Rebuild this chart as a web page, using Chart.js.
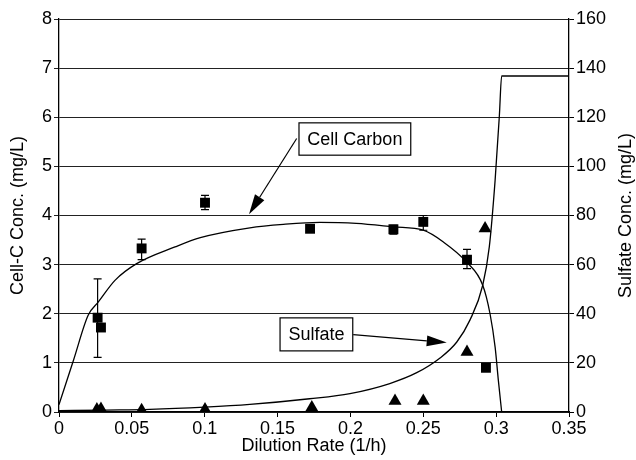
<!DOCTYPE html>
<html>
<head>
<meta charset="utf-8">
<script src="https://cdn.jsdelivr.net/npm/chart.js@4"></script>
<style>
    body { margin: 0; background: #fff; }
    canvas { display: block; }
</style>
</head>
<body>
<canvas id="dilution-chart" width="636" height="460"></canvas>
<script>
// Measured cell carbon (left axis, mg/L) with error bar limits
const cellDilution = [0.0265, 0.0288, 0.0567, 0.1002, 0.1723, 0.2295, 0.250, 0.280, 0.293];
const cellCarbon = [1.92, 1.72, 3.33, 4.26, 3.73, 3.72, 3.87, 3.10, 0.90];
const cellErrLow = [1.11, null, 3.10, 4.12, null, 3.62, 3.70, 2.92, null];
const cellErrHigh = [2.71, null, 3.52, 4.41, null, 3.80, 4.00, 3.31, null];

// Measured sulfate (right axis, mg/L)
const sulfateDilution = [0.026, 0.0288, 0.0567, 0.1002, 0.1735, 0.2306, 0.250, 0.280, 0.2924];
const sulfate = [1.0, 1.2, 0.7, 1.0, 1.8, 4.5, 4.5, 24.4, 74.7];

// Model curves
const cellModelX = [0, 0.01, 0.02, 0.027, 0.0384, 0.0533, 0.0796, 0.097, 0.131, 0.154, 0.179, 0.204, 0.2295, 0.250, 0.2638, 0.2798, 0.2908, 0.2958, 0.2993, 0.3015, 0.3038];
const cellModelY = [0.15, 1.06, 1.97, 2.24, 2.68, 3.02, 3.36, 3.55, 3.75, 3.82, 3.86, 3.84, 3.77, 3.70, 3.46, 3.05, 2.58, 2.0, 1.32, 0.65, 0];
const sulfateModelX = [0, 0.03, 0.0624, 0.1, 0.131, 0.172, 0.1997, 0.227, 0.2455, 0.2615, 0.273, 0.282, 0.2908, 0.2953, 0.2993, 0.3022, 0.3038, 0.35];
const sulfateModelY = [0.5, 0.8, 1.1, 2.0, 3.1, 5.4, 7.5, 11.6, 16.0, 22.0, 28.5, 37.4, 51.6, 67.2, 94.4, 120.5, 136.8, 136.8];

const xTickLabels = ['0', '0.05', '0.1', '0.15', '0.2', '0.25', '0.3', '0.35'];

// Callout boxes with arrows, in left-axis data units
const callouts = [
    { text: 'Cell Carbon', box: [0.1647, 5.886, 0.2414, 5.228], from: [0.1631, 5.568], to: [0.1304, 4.026] },
    { text: 'Sulfate', box: [0.1517, 1.916, 0.2016, 1.244], from: [0.2019, 1.577], to: [0.2661, 1.413] },
];

const FONT = '"Liberation Sans", Arial, sans-serif';

document.addEventListener("DOMContentLoaded", () => {
    Chart.defaults.font.family = FONT;
    Chart.defaults.font.size = 18;
    Chart.defaults.color = '#000';

    const toPoints = (xs, ys) => xs.map((x, i) => ({ x: x, y: ys[i] }));

    // Vertical error bars on the cell carbon squares
    const errorBars = {
        id: 'errorBars',
        beforeDatasetsDraw(chart) {
            const { ctx, scales } = chart;
            ctx.save();
            ctx.strokeStyle = '#000';
            ctx.lineWidth = 1.2;
            cellDilution.forEach((x, i) => {
                if (cellErrLow[i] == null) return;
                const px = scales.x.getPixelForValue(x);
                const top = scales.y.getPixelForValue(cellErrHigh[i]);
                const bottom = scales.y.getPixelForValue(cellErrLow[i]);
                ctx.beginPath();
                ctx.moveTo(px, top); ctx.lineTo(px, bottom);
                ctx.moveTo(px - 4, top); ctx.lineTo(px + 4, top);
                ctx.moveTo(px - 4, bottom); ctx.lineTo(px + 4, bottom);
                ctx.stroke();
            });
            ctx.restore();
        }
    };

    // Labelled boxes, arrows and the axis titles
    const decorations = {
        id: 'decorations',
        afterDraw(chart) {
            const { ctx, scales, chartArea } = chart;
            const X = v => scales.x.getPixelForValue(v);
            const Y = v => scales.y.getPixelForValue(v);
            ctx.save();
            ctx.strokeStyle = '#000';
            ctx.fillStyle = '#000';
            ctx.lineWidth = 1.2;
            ctx.font = '18px ' + FONT;

            callouts.forEach(c => {
                const x0 = X(c.box[0]), y0 = Y(c.box[1]);
                const x1 = X(c.box[2]), y1 = Y(c.box[3]);
                ctx.fillStyle = '#fff';
                ctx.fillRect(x0, y0, x1 - x0, y1 - y0);
                ctx.strokeRect(x0, y0, x1 - x0, y1 - y0);
                ctx.fillStyle = '#000';
                ctx.textAlign = 'center';
                ctx.textBaseline = 'middle';
                ctx.fillText(c.text, (x0 + x1) / 2, (y0 + y1) / 2 + 1);

                // arrow shaft and filled head
                const fx = X(c.from[0]), fy = Y(c.from[1]);
                const tx = X(c.to[0]), ty = Y(c.to[1]);
                const ang = Math.atan2(ty - fy, tx - fx);
                const len = 20, half = 5.5;
                const bx = tx - len * Math.cos(ang), by = ty - len * Math.sin(ang);
                ctx.beginPath();
                ctx.moveTo(fx, fy); ctx.lineTo(bx, by);
                ctx.stroke();
                ctx.beginPath();
                ctx.moveTo(tx, ty);
                ctx.lineTo(bx + half * Math.sin(ang), by - half * Math.cos(ang));
                ctx.lineTo(bx - half * Math.sin(ang), by + half * Math.cos(ang));
                ctx.closePath();
                ctx.fill();
            });

            const midY = (chartArea.top + chartArea.bottom) / 2;
            ctx.textAlign = 'center';
            ctx.textBaseline = 'middle';
            ctx.fillText('Dilution Rate (1/h)', (chartArea.left + chartArea.right) / 2, 446);
            [[18, 'Cell-C Conc. (mg/L)'], [626, 'Sulfate Conc. (mg/L)']].forEach(([x, t]) => {
                ctx.save();
                ctx.translate(x, midY);
                ctx.rotate(-Math.PI / 2);
                ctx.fillText(t, 0, 0);
                ctx.restore();
            });
            ctx.restore();
        }
    };

    const ctx = document.getElementById("dilution-chart").getContext("2d");
    new Chart(ctx, {
        type: "scatter",
        data: {
            datasets: [
                {
                    label: "Cell carbon model",
                    data: toPoints(cellModelX, cellModelY),
                    showLine: true,
                    borderColor: "#000",
                    borderWidth: 1.3,
                    pointRadius: 0,
                    cubicInterpolationMode: "monotone",
                    yAxisID: "y",
                },
                {
                    label: "Sulfate model",
                    data: toPoints(sulfateModelX, sulfateModelY),
                    showLine: true,
                    borderColor: "#000",
                    borderWidth: 1.3,
                    pointRadius: 0,
                    cubicInterpolationMode: "monotone",
                    yAxisID: "y2",
                },
                {
                    label: "Cell Carbon",
                    data: toPoints(cellDilution, cellCarbon),
                    pointStyle: "rect",
                    pointRadius: 7,
                    backgroundColor: "#000",
                    borderColor: "#000",
                    borderWidth: 0,
                    yAxisID: "y",
                },
                {
                    label: "Sulfate",
                    data: toPoints(sulfateDilution, sulfate),
                    pointStyle: "triangle",
                    pointRadius: 7.5,
                    backgroundColor: "#000",
                    borderColor: "#000",
                    borderWidth: 0,
                    yAxisID: "y2",
                },
            ],
        },
        options: {
            responsive: false,
            animation: false,
            layout: { padding: { top: 19, left: 0, right: 0, bottom: 0 } },
            plugins: {
                legend: { display: false },
                tooltip: { enabled: false },
            },
            scales: {
                x: {
                    type: "linear",
                    min: 0,
                    max: 0.35,
                    ticks: {
                        stepSize: 0.05,
                        padding: 1,
                        maxRotation: 0,
                        callback: function (value, index) {
                            return xTickLabels[index];
                        },
                    },
                    grid: { drawOnChartArea: false, color: "#000", tickLength: 5 },
                    border: { color: "#000", width: 1.3 },
                    afterFit: scale => { scale.height = 48; },
                },
                y: {
                    position: "left",
                    min: 0,
                    max: 8,
                    ticks: { stepSize: 1, padding: 2 },
                    grid: { color: "#222", lineWidth: 1, tickLength: 5 },
                    border: { color: "#000", width: 1.3 },
                    afterFit: scale => { scale.width = 59; },
                },
                y2: {
                    position: "right",
                    min: 0,
                    max: 160,
                    ticks: { stepSize: 20, padding: 2 },
                    grid: { drawOnChartArea: false, color: "#000", tickLength: 5 },
                    border: { color: "#000", width: 1.3 },
                    afterFit: scale => { scale.width = 67; },
                },
            },
        },
        plugins: [errorBars, decorations],
    });
});
</script>
</body>
</html>
